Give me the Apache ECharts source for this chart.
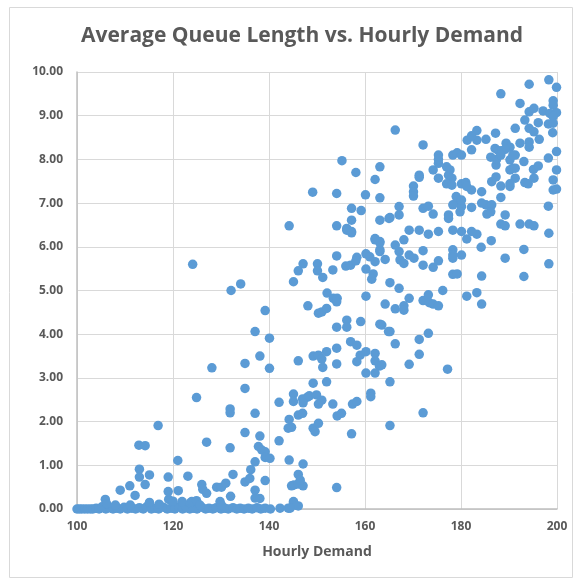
<!DOCTYPE html>
<html><head><meta charset="utf-8">
<script src="https://cdn.jsdelivr.net/npm/echarts@6/dist/echarts.min.js"></script>
<style>html,body{margin:0;padding:0;background:#fff}#c{width:577px;height:580px}</style>
</head><body><div id="c"></div>
<script>
const chartTitle = "Average Queue Length vs. Hourly Demand";
const xAxisTitle = "Hourly Demand";
const xTicks = [100, 120, 140, 160, 180, 200];
const yTicks = [0, 1, 2, 3, 4, 5, 6, 7, 8, 9, 10];

// near-zero queue (low demand)
const lowDemandPts = [
[100,0],[100.5,0],[101,0],[101.6,0],[102.2,0],[102.8,0],[103.3,0],[104,0.02],[104.6,0],[105.2,0.05],[106,0],[106.8,0.03],[107.5,0],[108.3,0.02],[109,0],[109.8,0.04],[110.5,0],[111.4,0.02],[112.2,0],[113,0.03],[113.8,0],[114.5,0.05],[115.5,0],[116.3,0.02],[117,0],[118,0.04],[118.8,0],[119.6,0.02],[120.4,0],[121.2,0.05],[122,0],[122.8,0.03],[123.5,0],[124.3,0.02],[125,0],[126,0.04],[126.8,0],[127.5,0.02],[128.3,0],[129,0.03],[130,0],[130.8,0.02],[131.5,0],[132.5,0.03],[133.3,0],[134,0.02],[134.8,0],[135.7,0.02],[136.5,0],[137.5,0.03],[138.3,0],[139.2,0.02],[140.3,0],[142.3,0.02],[144.0,0.02],
[105.9,0.22],[106.2,0.12],[108.0,0.09],[111.1,0.09],[115.1,0.15],[117.1,0.11],[119.1,0.22],[120,0.18],[121.9,0.17],[123.6,0.14],[123.9,0.17],[124.9,0.19],[125.6,0.09],[129.8,0.17],[130.1,0.09],[132.0,0.29],[137.1,0.25],[138.1,0.24],[145.1,0.17],[145.4,0.09],[145.1,0.14],[146.1,0.07],[144.4,0.02]
];
const q0to2 = [
[109.0,0.43],[111.0,0.53],[112.1,0.31],[114.2,0.56],[119.0,0.40],[121.1,0.42],[126.0,0.56],[126.2,0.45],[127.0,0.36],[129.1,0.50],[130.1,0.50],[131.0,0.59],[113.0,0.91],[113.0,0.73],[115.1,0.78],[119.0,0.73],[123.1,0.75],[132.5,0.79],[135.0,0.62],[136.2,0.90],[136.0,0.70],[139.2,0.65],[137.1,0.43],[146.1,0.79],[144.7,0.53],[145.2,0.55],[146.1,0.57],[147.1,0.53],[146.5,0.66],[154.1,0.49],
[112.9,1.46],[114.2,1.45],[116.9,1.91],[127.0,1.53],[131.9,1.40],[121.0,1.11],[135.0,1.75],[138.1,1.67],[137.8,1.43],[138.5,1.35],[139.2,1.31],[139.2,1.18],[140.2,1.16],[137.1,1.08],[142.1,1.56],[144.2,1.12],[147.1,1.03],[144.7,1.87],[144.0,1.85],[149.2,1.85],[149.6,1.77],[150.3,1.96],[157.2,1.72],[165.2,1.91]
];
const q2to4 = [
[144.2,2.05],[146.1,2.15],[147.0,2.19],[124.9,2.55],[131.9,2.29],[131.9,2.20],[135.0,2.76],[137.1,2.19],[142.1,2.44],[145.1,2.63],[145.1,2.46],[147.0,2.52],[148.0,2.56],[148.4,2.59],[147.1,2.43],[149.9,2.61],[150.3,2.40],[151.0,2.49],[152.0,2.91],[149.2,2.88],[153.3,2.40],[154.2,2.13],[155.1,2.19],[157.4,2.40],[158.3,2.46],[161.2,2.65],[161.2,2.57],[165.2,2.91],[172.1,2.20],
[128.1,3.23],[140.1,3.22],[135.0,3.33],[138.1,3.50],[140.1,3.91],[146.1,3.39],[149.2,3.50],[150.3,3.52],[151.0,3.43],[152.0,3.60],[151.2,3.24],[154.1,3.68],[154.1,3.32],[157.0,3.83],[158.3,3.75],[159.0,3.52],[160.2,3.60],[162.1,3.56],[162.1,3.39],[163.0,3.27],[158.3,3.37],[160.2,3.11],[162.1,3.11],[177.2,3.20],[169.2,3.31],[171.3,3.54],[171.3,3.88],[166.3,3.78],[163.5,3.30]
];
const q4to6 = [
[137.1,4.06],[139.2,4.54],[173.2,4.02],[165.2,4.06],[163.5,4.21],[164.2,4.69],[166.3,4.58],[168.1,4.65],[168.1,4.55],[169.2,4.82],[172.1,4.77],[173.2,4.90],[173.4,4.72],[174.2,4.69],[175.3,4.65],[176.2,5.00],[181.2,4.87],[183.3,4.95],[184.3,4.69],[156.2,4.32],[156.2,4.16],[154.1,4.16],[159.1,4.29],[163.1,4.23],[164.9,4.06],[148.1,4.65],[150.3,4.48],[151.0,4.51],[152.0,4.59],[152.1,4.94],[153.4,4.82],[154.2,4.82],[154.1,4.74],[160.2,4.87],
[124.1,5.60],[132.1,5.00],[134.1,5.15],[165.2,5.18],[167.1,5.05],[178.3,5.37],[179.2,5.38],[184.3,5.33],[193.1,5.32],[198.3,5.61],[189.2,5.74],[193.1,5.94],[180.1,5.81],[178.3,5.93],[178.3,5.81],[178.3,5.74],[184.2,5.99],[172.1,5.91],[172.1,5.58],[174.2,5.53],[175.3,5.68],[167.1,5.89],[167.3,5.70],[168.1,5.62],[169.2,5.81],[170.2,5.74],[163.1,5.89],[164.2,5.71],[145.1,5.20],[146.1,5.45],[147.1,5.61],[150.1,5.61],[150.1,5.45],[151.2,5.30],[153.3,5.47],[154.1,5.79],[156.0,5.56],[157.0,5.58],[158.3,5.76],[158.1,5.68],[160.2,5.49],[161.7,5.38],[161.4,5.26],[160.2,5.84],[163.1,5.93],[162.1,5.66],[161.0,5.77]
];
const q6to8 = [
[198.3,6.31],[186.3,6.14],[181.2,6.18],[183.3,6.29],[182.2,6.35],[180.1,6.35],[173.2,6.29],[175.3,6.35],[178.3,6.38],[168.1,6.16],[169.2,6.38],[171.3,6.38],[166.3,6.04],[163.1,6.12],[162.1,6.16],[163.1,6.09],[157.2,6.35],[156.2,6.38],[144.2,6.48],[165.0,6.65],[163.1,6.61],[157.2,6.61],[154.1,6.48],[156.2,6.42],[157.2,6.32],[162.1,6.19],[157.2,6.88],[159.2,6.83],[198.2,6.93],[185.2,6.96],[186.4,6.96],[185.4,6.75],[186.2,6.80],[184.3,7.00],[182.2,6.90],[189.2,6.73],[188.3,6.52],[189.2,6.48],[192.3,6.52],[194.2,6.52],[195.2,6.48],[179.2,7.01],[180.1,6.92],[179.8,6.80],[178.3,6.96],[177.4,6.73],[177.4,6.65],[174.2,6.75],[172.1,6.88],[173.2,6.93],[167.1,6.92],[167.1,6.73],[165.2,6.67],
[155.2,7.97],[158.1,7.70],[163.1,7.83],[162.1,7.54],[149.1,7.25],[154.1,7.22],[160.1,7.19],[163.1,7.12],[199.9,7.76],[199.2,7.53],[199.2,7.30],[199.9,7.32],[190.2,7.99],[190.8,7.80],[190.2,7.76],[191.3,7.80],[193.1,7.95],[195.1,7.77],[196.1,7.85],[195.2,7.57],[193.3,7.47],[194.0,7.44],[191.3,7.57],[190.2,7.44],[188.3,7.39],[190.2,7.38],[186.4,7.49],[187.3,7.60],[187.3,7.87],[187.4,8.00],[188.3,7.13],[180.1,7.44],[181.0,7.47],[182.2,7.30],[184.3,7.26],[181.2,7.38],[179.0,7.15],[180.1,7.07],[170.1,7.39],[170.1,7.26],[170.1,7.16],[171.3,7.64],[171.3,7.59],[174.2,7.76],[175.3,7.57],[177.0,7.83],[177.7,7.76],[177.4,7.64],[178.1,7.57],[177.0,7.44],[178.1,7.41],[175.3,7.91]
];
const q8plus = [
[194.2,9.72],[198.3,9.82],[199.9,9.65],[188.3,9.50],[192.3,9.28],[194.2,9.09],[195.2,9.17],[197.1,9.11],[199.2,9.34],[199.2,9.24],[199.9,9.07],[198.5,9.05],[199.2,8.98],[193.3,8.90],[196.1,8.84],[198.2,8.81],[199.2,8.83],[199.1,8.61],[191.3,8.71],[194.2,8.71],[195.2,8.63],[196.3,8.46],[194.2,8.40],[194.2,8.28],[192.3,8.37],[187.2,8.60],[185.2,8.46],[183.3,8.66],[183.3,8.44],[181.3,8.44],[182.2,8.54],[182.2,8.22],[189.4,8.37],[190.2,8.28],[187.1,8.25],[187.8,8.20],[188.5,8.20],[189.2,8.23],[191.3,8.10],[199.9,8.18],[198.2,8.03],[186.2,8.05],[188.3,8.10],[190.8,8.10],[175.3,8.10],[175.3,8.00],[178.3,8.10],[179.2,8.15],[180.1,8.10],[172.1,8.33],[166.3,8.67]
];
const allPoints = [].concat(lowDemandPts, q0to2, q2to4, q4to6, q6to8, q8plus);

const gray = '#595959';
const font = '"Open Sans", Lato, sans-serif';
const chart = echarts.init(document.getElementById('c'), null, {renderer: 'canvas'});
chart.setOption({
  animation: false,
  graphic: [{type: 'rect', shape: {x: 9.5, y: 7.5, width: 563, height: 570}, style: {fill: 'none', stroke: '#D9D9D9', lineWidth: 1}, z: -1}],
  title: {text: chartTitle, left: 76, top: 21,
    textStyle: {fontFamily: font, fontSize: 21, fontWeight: 'bold', color: gray}},
  grid: {left: 77, right: 20, top: 72, bottom: 71, containLabel: false},
  xAxis: {type: 'value', min: xTicks[0], max: xTicks[xTicks.length-1], interval: 20,
    name: xAxisTitle, nameLocation: 'middle', nameGap: 36,
    nameTextStyle: {fontFamily: font, fontSize: 14, fontWeight: 'bold', color: gray},
    axisLine: {show: true, lineStyle: {color: '#BFBFBF', width: 1.5}},
    axisTick: {show: false},
    axisLabel: {fontFamily: font, fontSize: 12, fontWeight: 'bold', color: gray, margin: 12},
    splitLine: {show: true, lineStyle: {color: '#D9D9D9', width: 1}}},
  yAxis: {type: 'value', min: yTicks[0], max: yTicks[yTicks.length-1], interval: 1,
    axisLine: {show: true, lineStyle: {color: '#BFBFBF', width: 1.5}},
    axisTick: {show: false},
    axisLabel: {fontFamily: font, fontSize: 12, fontWeight: 'bold', color: gray, margin: 14,
      formatter: v => v.toFixed(2)},
    splitLine: {show: true, lineStyle: {color: '#D9D9D9', width: 1}}},
  series: [{type: 'scatter', data: allPoints, symbolSize: 9.5,
    itemStyle: {color: '#5B9BD5', opacity: 1}}]
});
</script></body></html>
